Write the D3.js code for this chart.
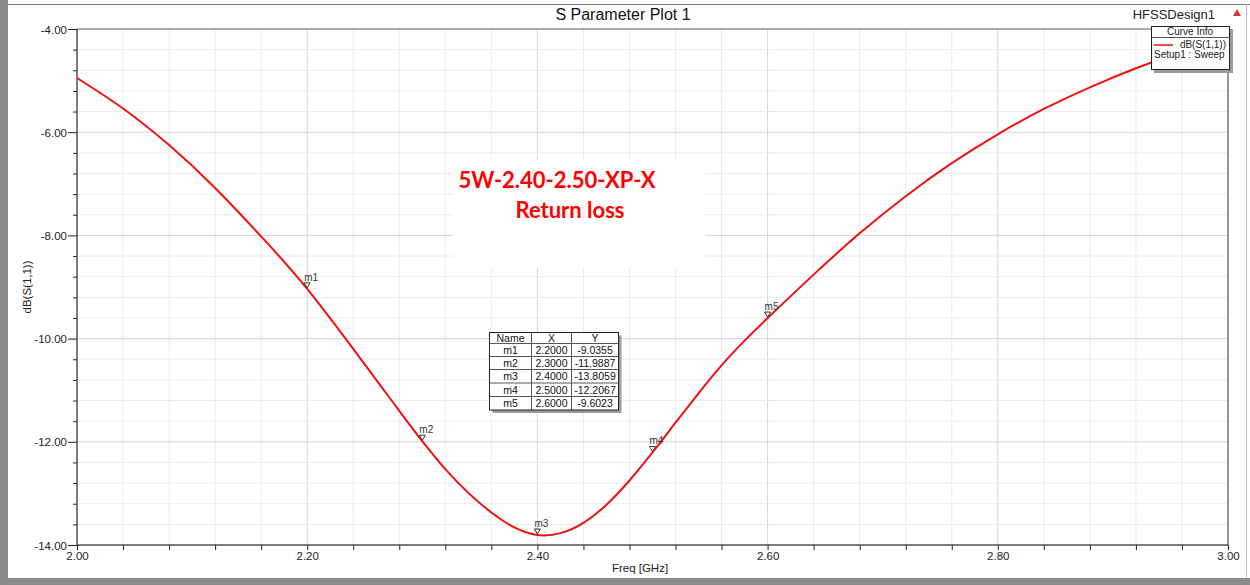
<!DOCTYPE html>
<html lang="en">
<head>
<meta charset="UTF-8">
<title>S Parameter Plot 1</title>
<style>
  body { margin: 0; background: #fff; }
  svg { display: block; font-family: 'Liberation Sans', Arial, sans-serif; }
</style>
</head>
<body>
<svg id="chart" width="1250" height="585"></svg>
<script src="https://d3js.org/d3.v7.min.js"></script>
<script>
// curve data
const freq = [2.00, 2.04, 2.08, 2.12, 2.16, 2.20, 2.24, 2.26, 2.28, 2.30, 2.32, 2.34, 2.36, 2.38,
              2.40, 2.42, 2.44, 2.46, 2.48, 2.50, 2.52, 2.54, 2.56, 2.58, 2.60, 2.64, 2.68, 2.72,
              2.76, 2.80, 2.84, 2.88, 2.92, 2.96, 3.00];
const s11 = [-4.95, -5.54, -6.25, -7.08, -8.02, -9.0355, -10.20, -10.80, -11.40, -11.9887, -12.53, -12.99, -13.37, -13.66,
             -13.8059, -13.77, -13.57, -13.22, -12.75, -12.2067, -11.63, -11.06, -10.52, -10.04, -9.6023, -8.76, -7.96, -7.24,
             -6.60, -6.04, -5.55, -5.13, -4.76, -4.44, -4.16];

// markers
const markerNames = ['m1', 'm2', 'm3', 'm4', 'm5'];
const markerX = [2.2, 2.3, 2.4, 2.5, 2.6];
const markerY = [-9.0355, -11.9887, -13.8059, -12.2067, -9.6023];

// ticks
const xTicks = d3.range(0, 26).map(i => 2 + i * 0.04);
const xLabels = [2.0, 2.2, 2.4, 2.6, 2.8, 3.0];
const yTicks = d3.range(0, 26).map(i => -14 + i * 0.4);
const yLabels = [-14, -12, -10, -8, -6, -4];

const svg = d3.select('#chart');
const pLeft = 77, pRight = 1228, pTop = 29, pBottom = 545;

const x = d3.scaleLinear().domain([2, 3]).range([pLeft, pRight]);
const y = d3.scaleLinear().domain([-14, -4]).range([pBottom, pTop]);
const isMajor = (v, list) => list.some(l => Math.abs(l - v) < 1e-6);
const fmt = v => d3.format('.2f')(v).replace('\u2212', '-');

// outer frame
svg.append('rect').attr('x', 0).attr('y', 0).attr('width', 8).attr('height', 585).attr('fill', '#8a8a8a');
svg.append('rect').attr('x', 0).attr('y', 578).attr('width', 1250).attr('height', 7).attr('fill', '#8a8a8a');
svg.append('line').attr('x1', 8).attr('x2', 1250).attr('y1', 4.5).attr('y2', 4.5).attr('stroke', '#777');
svg.append('line').attr('x1', 1246.5).attr('x2', 1246.5).attr('y1', 4).attr('y2', 578).attr('stroke', '#bbb');

// grid
const grid = svg.append('g');
grid.selectAll('.gx').data(xTicks).enter().append('line')
  .attr('x1', d => x(d)).attr('x2', d => x(d)).attr('y1', pTop).attr('y2', pBottom)
  .attr('stroke', d => isMajor(d, xLabels) ? '#d4d4d4' : '#ebebeb').attr('stroke-width', 1);
grid.selectAll('.gy').data(yTicks).enter().append('line')
  .attr('x1', pLeft).attr('x2', pRight).attr('y1', d => y(d)).attr('y2', d => y(d))
  .attr('stroke', d => isMajor(d, yLabels) ? '#d4d4d4' : '#ebebeb').attr('stroke-width', 1);

// frame of plot
svg.append('line').attr('x1', pLeft).attr('x2', pRight).attr('y1', pTop).attr('y2', pTop).attr('stroke', '#666');
svg.append('line').attr('x1', pRight).attr('x2', pRight).attr('y1', pTop).attr('y2', pBottom).attr('stroke', '#444');

// white box behind annotation text
svg.append('rect').attr('x', 453).attr('y', 160).attr('width', 252).attr('height', 108).attr('fill', '#fff');

// axes
const yAxis = d3.axisLeft(y).tickValues(yTicks).tickSize(5)
  .tickFormat(d => isMajor(d, yLabels) ? fmt(d) : '');
const gy = svg.append('g').attr('transform', `translate(${pLeft},0)`).call(yAxis);
gy.selectAll('.tick line').attr('x2', d => isMajor(d, yLabels) ? -9 : -4).attr('stroke', '#222');
gy.selectAll('.tick text').attr('x', -10).attr('dy', '0.35em')
  .style('font-size', '11.5px').style('fill', '#222').style('font-family', 'Liberation Sans, Arial');
gy.select('.domain').attr('stroke', '#111').attr('d', `M0,${pTop}V${pBottom}`);

const xAxis = d3.axisBottom(x).tickValues(xTicks).tickSize(5)
  .tickFormat(d => isMajor(d, xLabels) ? fmt(d) : '');
const gx = svg.append('g').attr('transform', `translate(0,${pBottom})`).call(xAxis);
gx.selectAll('.tick line').attr('y2', 5).attr('stroke', '#222');
gx.selectAll('.tick text').attr('y', 7)
  .style('font-size', '11.5px').style('fill', '#222').style('font-family', 'Liberation Sans, Arial');
gx.select('.domain').attr('stroke', '#111').attr('d', `M${pLeft},0H${pRight}`);

// axis titles
svg.append('text').attr('x', 640).attr('y', 572).attr('text-anchor', 'middle')
  .style('font-size', '11.5px').style('fill', '#222').text('Freq [GHz]');
svg.append('text').attr('transform', 'translate(31,287) rotate(-90)').attr('text-anchor', 'middle')
  .style('font-size', '11.5px').style('fill', '#222').text('dB(S(1,1))');

// title
svg.append('text').attr('x', 623).attr('y', 20).attr('text-anchor', 'middle')
  .style('font-size', '16px').style('fill', '#111').text('S Parameter Plot 1');
svg.append('text').attr('x', 1215).attr('y', 19).attr('text-anchor', 'end')
  .style('font-size', '13px').style('fill', '#222').text('HFSSDesign1');
svg.append('path').attr('d', 'M1237,9 L1241,16 L1233,16 Z').attr('fill', '#e03030');

// curve
const pts = freq.map((f, i) => [f, s11[i]]);
const line = d3.line().x(d => x(d[0])).y(d => y(d[1])).curve(d3.curveNatural);
svg.append('path').datum(pts).attr('d', line)
  .attr('fill', 'none').attr('stroke', '#f01010').attr('stroke-width', 2);

// markers
const mk = svg.append('g');
markerNames.forEach((n, i) => {
  const px = x(markerX[i]), py = y(markerY[i]);
  mk.append('path').attr('d', `M${px - 3},${py - 6} L${px + 3},${py - 6} L${px},${py - 1} Z`)
    .attr('fill', '#fff').attr('stroke', '#333').attr('stroke-width', 1);
  mk.append('text').attr('x', px - 3).attr('y', py - 8)
    .style('font-size', '10px').style('fill', '#333').text(n);
});

// annotation text
svg.append('text').attr('x', 557).attr('y', 188).attr('text-anchor', 'middle')
  .style('font-family', 'Lato, "Open Sans", sans-serif').style('font-weight', 'bold')
  .style('font-size', '22px').style('fill', '#ff0000').text('5W-2.40-2.50-XP-X');
svg.append('text').attr('x', 570).attr('y', 218).attr('text-anchor', 'middle')
  .style('font-family', 'Lato, "Open Sans", sans-serif').style('font-weight', 'bold')
  .style('font-size', '22px').style('fill', '#ff0000').text('Return loss');

// marker table
const tbl = svg.append('g');
const tx = 489.5, ty = 332.5, colX = [tx, 531.5, 571.5, 618.5];
const rowY = [ty, 343.5, 356.5, 369.5, 383, 396.5, 410];
tbl.append('rect').attr('x', tx + 3).attr('y', ty + 3).attr('width', colX[3] - tx).attr('height', rowY[6] - ty).attr('fill', '#9a9a9a');
tbl.append('rect').attr('x', tx).attr('y', ty).attr('width', colX[3] - tx).attr('height', rowY[6] - ty)
  .attr('fill', '#fff').attr('stroke', '#222');
rowY.slice(1, 6).forEach(ry => tbl.append('line').attr('x1', tx).attr('x2', colX[3]).attr('y1', ry).attr('y2', ry).attr('stroke', '#555'));
colX.slice(1, 3).forEach(cx => tbl.append('line').attr('x1', cx).attr('x2', cx).attr('y1', ty).attr('y2', rowY[6]).attr('stroke', '#555'));
const cells = [['Name', 'X', 'Y']].concat(markerNames.map((n, i) => [n, markerX[i].toFixed(4), markerY[i].toFixed(4)]));
cells.forEach((row, r) => {
  row.forEach((c, k) => {
    tbl.append('text').attr('x', (colX[k] + colX[k + 1]) / 2).attr('y', (rowY[r] + rowY[r + 1]) / 2 + 3.8)
      .attr('text-anchor', 'middle').style('font-size', '10.5px').style('fill', '#111').text(c);
  });
});

// legend
const lg = svg.append('g');
lg.append('rect').attr('x', 1154).attr('y', 29).attr('width', 79).attr('height', 44).attr('fill', '#9a9a9a');
lg.append('rect').attr('x', 1151.5).attr('y', 26.5).attr('width', 78).attr('height', 43).attr('fill', '#fff').attr('stroke', '#222');
lg.append('line').attr('x1', 1151.5).attr('x2', 1229.5).attr('y1', 37.5).attr('y2', 37.5).attr('stroke', '#555');
lg.append('text').attr('x', 1190).attr('y', 35).attr('text-anchor', 'middle').style('font-size', '10px').style('fill', '#222').text('Curve Info');
lg.append('line').attr('x1', 1154).attr('x2', 1173).attr('y1', 45).attr('y2', 45).attr('stroke', '#f01010').attr('stroke-width', 1.5);
lg.append('text').attr('x', 1226).attr('y', 47.5).attr('text-anchor', 'end').style('font-size', '10px').style('fill', '#222').text('dB(S(1,1))');
lg.append('text').attr('x', 1154).attr('y', 58).style('font-size', '10px').style('fill', '#222').text('Setup1 : Sweep');
</script>
</body>
</html>
